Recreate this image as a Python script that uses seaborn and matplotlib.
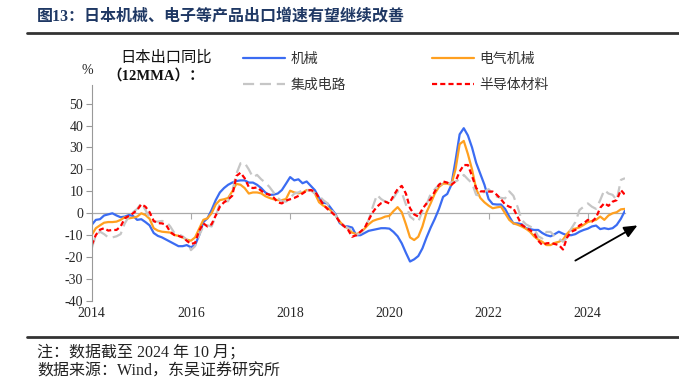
import numpy as np
import pandas as pd
import matplotlib
matplotlib.use("Agg")
import matplotlib.pyplot as plt
from matplotlib.lines import Line2D
import seaborn as sns

# 日本出口同比（12MMA），月度 2014-01 ~ 2024-10
months = pd.date_range("2014-01-01", "2024-10-01", freq="MS")

jixie = [
    -5.3, -3.0, -2.7, -1.0, -0.5, 0.0, -1.0, -1.8, -1.5, -0.8, -1.2, -3.0,
    -2.7, -4.0, -5.5, -9.0, -10.3, -11.0, -12.0, -13.0, -14.0, -15.0, -15.0, -14.5,
    -15.5, -14.5, -10.0, -4.0, -2.3, 1.5, 6.0, 9.5, 11.5, 13.0, 14.0, 14.7,
    15.0, 15.0, 14.0, 14.0, 13.0, 11.5, 9.5, 8.4, 8.5, 9.0, 10.6, 13.5,
    16.5, 15.0, 15.5, 13.7, 14.5, 12.5, 10.5, 7.0, 4.8, 4.5, 2.0, -0.5,
    -4.5, -5.8, -6.0, -6.5, -10.0, -10.0, -9.0, -8.0, -7.6, -7.2, -6.8, -6.8,
    -7.0, -8.5, -10.5, -13.7, -18.0, -22.0, -21.0, -19.5, -16.0, -11.0, -6.5, -2.5,
    2.0, 7.5, 8.8, 13.0, 24.0, 36.0, 38.8, 35.5, 30.0, 23.0, 18.0, 13.0,
    6.5, 4.2, 4.0, 4.0, 2.0, -1.5, -4.6, -4.6, -5.0, -6.8, -7.2, -7.6,
    -7.6, -9.0, -10.0, -10.5, -9.5, -8.4, -9.3, -10.0, -10.0, -9.5, -8.4, -7.6,
    -7.0, -6.0, -5.6, -7.2, -6.8, -7.2, -6.8, -5.3, -2.5, 1.2,
]

dianqi = [
    -9.9, -6.8, -5.5, -4.3, -4.0, -4.0, -3.8, -3.0, -1.8, -2.3, -2.0, -1.5,
    0.0, -0.8, -2.5, -6.8, -7.9, -8.4, -8.6, -8.8, -9.9, -10.3, -11.0, -12.0,
    -12.5, -11.0, -7.0, -3.0, -2.3, 0.0, 4.0, 6.0, 6.4, 7.0, 10.0, 13.4,
    13.0, 11.5, 9.0, 9.5, 9.5, 9.1, 7.8, 7.0, 6.4, 6.0, 6.0, 6.5,
    10.3, 9.5, 9.1, 9.4, 10.6, 10.6, 9.0, 5.0, 3.5, 2.5, 1.0, -1.0,
    -3.8, -5.8, -7.0, -8.8, -9.5, -8.8, -7.0, -5.0, -3.5, -2.8, -2.3, -1.5,
    -1.2, 1.0, 2.8, 0.5, -5.0, -11.0, -12.2, -10.7, -6.0, 0.5, 4.6, 9.0,
    12.0, 13.5, 13.5, 13.0, 20.0, 31.5, 33.0, 27.0, 20.0, 11.0, 7.0, 5.0,
    3.5, 2.3, 2.7, 3.0, 0.0, -3.0, -4.6, -5.2, -6.0, -7.0, -8.4, -10.5,
    -12.0, -13.0, -14.5, -14.5, -13.5, -13.0, -12.0, -9.3, -7.3, -7.0, -6.4, -5.3,
    -4.0, -3.5, -3.0, -1.5, -3.0, -1.0, 0.0, 0.5, 1.8, 2.0,
]

jicheng = [
    -16.0, -10.0, -8.4, -9.5, -11.0, -11.0, -10.5, -9.5, -4.6, -1.5, 0.5, 2.0,
    4.6, 1.5, -2.0, -3.8, -3.8, -3.5, -3.8, -6.0, -9.0, -9.5, -10.5, -12.0,
    -16.8, -15.0, -10.0, -6.0, -5.5, -6.0, -1.5, 4.6, 5.3, 5.5, 10.0, 18.0,
    22.8, 23.0, 20.0, 16.4, 17.5, 15.5, 14.0, 12.0, 9.5, 7.0, 5.5, 5.3,
    7.0, 9.0, 9.5, 10.5, 10.5, 10.5, 9.0, 8.0, 6.0, 4.6, 1.5, -1.0,
    -4.0, -5.5, -6.8, -7.5, -10.0, -9.0, -6.8, -3.0, 3.0, 8.4, 6.5, 5.3,
    5.0, 7.0, 10.0, 9.5, 4.0, -1.5, -3.0, -3.8, 1.0, 4.0, 8.9, 11.0,
    13.0, 13.4, 13.4, 14.0, 14.5, 15.5, 17.5, 15.5, 13.7, 8.4, 8.0, 9.9,
    11.0, 9.0, 7.6, 7.0, 6.8, 10.0, 8.0, 3.0, -3.0, -5.0, -6.0, -7.0,
    -10.5, -11.5, -8.5, -8.5, -10.5, -11.5, -13.0, -11.0, -7.0, -4.0, 1.5, 3.0,
    4.5, 3.0, 2.0, 6.0, 10.6, 9.0, 8.4, 6.0, 15.2, 16.0,
]

bandaoti = [
    -14.5, -9.9, -7.5, -6.8, -7.9, -7.6, -7.6, -6.0, -2.3, -1.2, 0.0, 1.5,
    4.1, 3.0, 0.5, -3.5, -4.5, -4.6, -5.3, -8.5, -9.9, -10.3, -11.0, -12.5,
    -14.0, -13.5, -8.0, -4.6, -6.0, -5.0, -1.0, 3.0, 5.0, 6.3, 8.0, 17.0,
    18.5, 16.0, 12.0, 11.5, 11.8, 10.3, 9.0, 8.5, 7.2, 5.0, 4.5, 5.8,
    6.4, 7.0, 7.9, 9.0, 10.3, 10.6, 9.9, 7.0, 4.0, 2.0, 0.5, -1.2,
    -4.0, -5.8, -7.5, -10.7, -10.0, -8.4, -6.8, -3.0, 0.5, 3.0, 4.6, 5.3,
    4.5, 8.0, 11.0, 12.5, 9.0, 2.3, -0.5, -1.5, 2.0, 4.5, 6.5, 10.0,
    13.0, 14.5, 14.0, 13.0, 14.5, 19.0, 22.0, 22.0, 17.0, 11.5, 10.0, 10.0,
    9.9, 9.9, 8.4, 6.4, 4.0, 3.0, 2.3, -1.5, -5.3, -6.5, -7.6, -9.0,
    -12.5, -14.5, -13.7, -13.5, -14.0, -14.5, -16.5, -11.0, -8.4, -7.6, -5.5, -4.6,
    -3.0, -3.8, -2.0, 2.5, 4.6, 3.4, 5.3, 6.0, 10.6, 8.4,
]

series_names = ["机械", "电气机械", "集成电路", "半导体材料"]
colors = ["#3B6CF2", "#FFA020", "#C6C6C6", "#FF0000"]
dash_styles = ["", "", (5, 2.6), (2.3, 1.4)]
year_ticks = [2014, 2016, 2018, 2020, 2022, 2024]
y_ticks = list(range(-40, 51, 10))

xpos = months.year + (months.month - 1) / 12.0
df = pd.DataFrame({"x": xpos, "机械": jixie, "电气机械": dianqi,
                   "集成电路": jicheng, "半导体材料": bandaoti})
long_df = df.melt(id_vars="x", var_name="series", value_name="value")

sns.set_style("white")
plt.rcParams["font.family"] = ["Liberation Serif", "Noto Sans CJK SC"]
plt.rcParams["axes.unicode_minus"] = False
cjk = ["Noto Sans CJK SC", "DejaVu Sans"]

fig = plt.figure(figsize=(6.79, 3.80), dpi=100)
ax = fig.add_axes([91.7 / 679, 1 - 301 / 380, (625 - 91.7) / 679, (301 - 85) / 380])

sns.lineplot(data=long_df, x="x", y="value", hue="series", style="series",
             hue_order=series_names, style_order=series_names,
             palette=dict(zip(series_names, colors)),
             dashes=dict(zip(series_names, dash_styles)),
             linewidth=1.6, ax=ax)

ax.set_xlim(xpos[0], xpos[-1])
ax.set_ylim(-40, 58.5)
ax.set_xlabel("")
ax.set_ylabel("")
ax.set_yticks(y_ticks)
ax.tick_params(axis="y", labelsize=10, length=4, width=0.8, color="#999999",
               direction="out", pad=2, left=True)

for s in ["top", "right"]:
    ax.spines[s].set_visible(False)
ax.spines["left"].set_color("#999999")
ax.spines["left"].set_linewidth(0.8)
ax.spines["bottom"].set_position(("data", 0))
ax.spines["bottom"].set_color("#aaaaaa")
ax.spines["bottom"].set_linewidth(0.9)
ax.spines["bottom"].set_zorder(0)
ax.set_xticks(year_ticks)
ax.tick_params(axis="x", bottom=True, length=4, width=0.8, color="#aaaaaa",
               direction="out", labelbottom=False)

sec = ax.secondary_xaxis("bottom")
sec.set_xticks(year_ticks)
sec.set_xticklabels([str(y) for y in year_ticks])
sec.tick_params(length=0, labelsize=10, pad=4)
sec.spines["bottom"].set_visible(False)

handles, labels = ax.get_legend_handles_labels()
ax.get_legend().remove()
order = [0, 2, 1, 3]
leg = fig.legend([handles[i] for i in order], [labels[i] for i in order],
                 ncol=2, loc="upper left", bbox_to_anchor=(243 / 679, 1 - 52 / 380),
                 frameon=False, handlelength=3.0, handletextpad=0.4,
                 columnspacing=6.2, labelspacing=0.85, borderpad=0, borderaxespad=0,
                 prop={"family": cjk, "size": 10})
for t in leg.get_texts():
    t.set_color("#333333")

fig.text(166 / 679, 1 - 57 / 380, "日本出口同比", family=cjk, fontsize=11,
         ha="center", va="center", color="#111111")
fig.text(156 / 679, 1 - 76 / 380, "（12MMA）：", fontsize=10.5, fontweight="bold",
         ha="center", va="center", color="#111111")
fig.text(87 / 679, 1 - 70 / 380, "%", fontsize=10, ha="center", va="center",
         color="#222222")

ax.annotate("", xy=(2025.05, -4.9), xytext=(2023.7, -22.2),
            arrowprops=dict(arrowstyle="-|>,head_length=0.8,head_width=0.35",
                            color="black", lw=1.3),
            annotation_clip=False)

fig.text(37 / 679, 1 - 17 / 380, "图13：日本机械、电子等产品出口增速有望继续改善",
         fontsize=11.5, fontweight="bold", color="#1F3864", ha="left", va="center")
fig.add_artist(Line2D([27 / 679, 1.0], [1 - 33 / 380] * 2, color="#333333", lw=2))
fig.add_artist(Line2D([27 / 679, 1.0], [1 - 337 / 380] * 2, color="#333333", lw=2))

fig.text(37 / 679, 1 - 352 / 380, "注：数据截至 2024 年 10 月；", fontsize=11.5,
         ha="left", va="center", color="#222222")
fig.text(37 / 679, 1 - 372 / 380, "数据来源：Wind，东吴证券研究所", fontsize=11.5,
         ha="left", va="center", color="#222222")

fig.savefig("out.png", dpi=100)
